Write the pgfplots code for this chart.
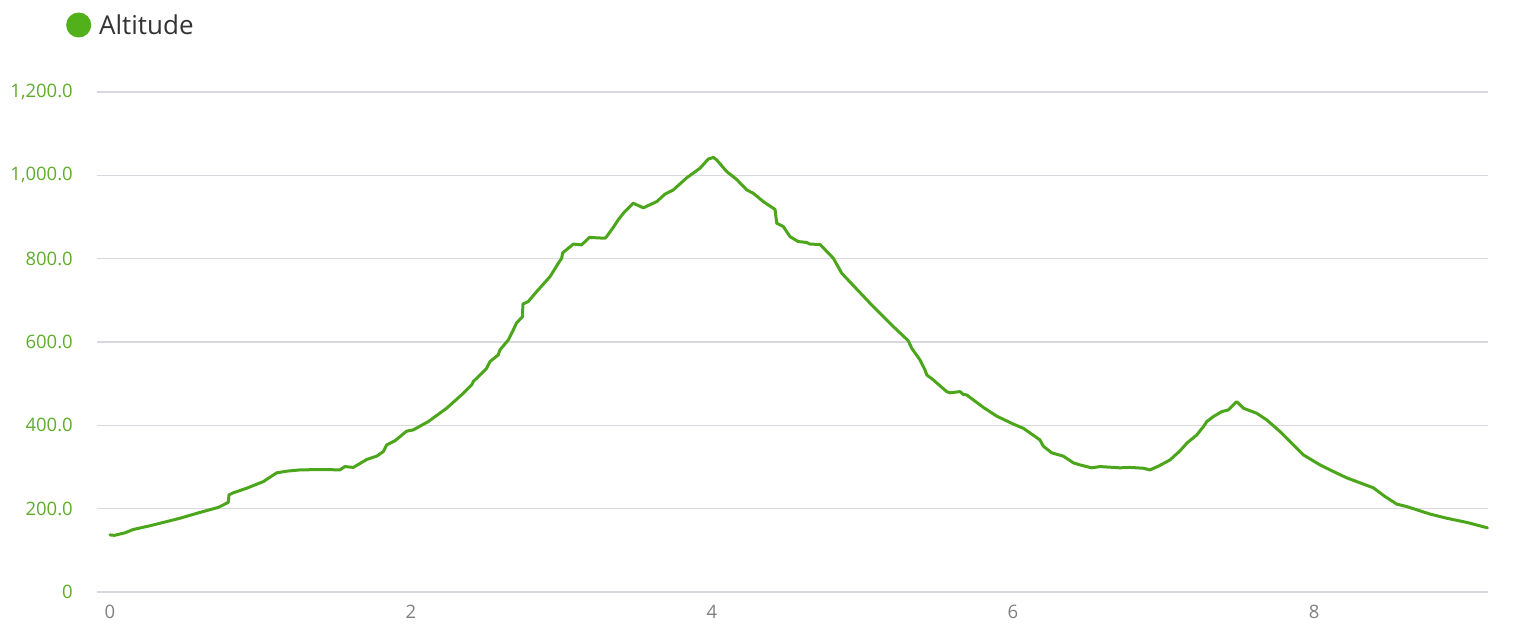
\documentclass[border=0pt]{standalone}
\usepackage{pgfplots}
\pgfplotsset{compat=1.18}
\usepackage{fontspec}
\setmainfont{Open Sans}
\definecolor{altline}{RGB}{76,166,28}
\definecolor{altdot}{RGB}{82,176,26}
\definecolor{ylab}{RGB}{95,172,45}
\definecolor{xlab}{RGB}{128,128,128}
\definecolor{gridc}{RGB}{216,216,222}
\definecolor{legtext}{RGB}{51,51,51}
\begin{document}
\begin{tikzpicture}
\begin{axis}[
  scale only axis,
  width=1391pt, height=500pt,
  xmin=-0.086, xmax=9.156,
  ymin=0, ymax=1200,
  axis line style={draw=none},
  major tick length=0pt,
  ymajorgrids,
  grid style={gridc, line width=1.2pt},
  xtick={0,2,4,6,8},
  ytick={0,200,400,600,800,1000,1200},
  yticklabels={0,200.0,400.0,600.0,800.0,{1,000.0},{1,200.0}},
  /pgf/number format/assume math mode=true,
  ticklabel style={font=\fontsize{18.5}{22}\selectfont},
  yticklabel style={ylab, anchor=east, inner sep=0pt, xshift=-24pt},
  xticklabel style={xlab, anchor=north, inner sep=0pt, yshift=-13pt},
  legend style={at={(axis description cs:-0.0223,1.134)}, anchor=west, draw=none, fill=none, inner sep=0pt,
     font=\fontsize{26}{30}\selectfont\color{legtext},
     /tikz/every odd column/.append style={column sep=6pt}},
  legend image code/.code={\fill[altdot] (0pt,0pt) circle (11pt);},
  legend cell align=left,
  clip=false,
]
\addplot[altline, line width=3pt, line join=round, line cap=round] coordinates {
(0.000,137) (0.030,136) (0.100,142) (0.155,150) (0.266,159) (0.465,177) (0.598,191) (0.720,203)
(0.786,215) (0.791,233) (0.819,238) (0.908,249) (1.019,265) (1.108,286) (1.174,290) (1.262,293)
(1.417,294) (1.528,293) (1.561,301) (1.617,299) (1.706,318) (1.772,326) (1.816,337) (1.839,353)
(1.894,363) (1.971,386) (2.015,389) (2.115,409) (2.237,441) (2.348,477) (2.403,497) (2.414,505)
(2.503,537) (2.525,553) (2.580,569) (2.591,581) (2.647,605) (2.669,621) (2.702,646) (2.742,661)
(2.743,691) (2.779,697) (2.835,721) (2.924,757) (2.979,789) (3.001,801) (3.008,814) (3.079,835)
(3.134,833) (3.185,851) (3.289,849) (3.300,853) (3.344,875) (3.377,893) (3.411,909) (3.477,933)
(3.544,922) (3.633,937) (3.688,955) (3.743,965) (3.832,994) (3.920,1017) (3.975,1039) (4.009,1043)
(4.031,1037) (4.098,1009) (4.164,990) (4.231,965) (4.274,957) (4.341,937) (4.419,918) (4.430,885)
(4.474,877) (4.518,853) (4.573,841) (4.629,839) (4.651,835) (4.718,834) (4.806,801) (4.862,765)
(5.050,693) (5.094,677) (5.116,669) (5.205,637) (5.304,603) (5.327,585) (5.382,557) (5.415,533)
(5.427,521) (5.470,509) (5.559,481) (5.581,478) (5.648,481) (5.670,474) (5.692,473) (5.803,443)
(5.892,422) (6.002,403) (6.068,393) (6.179,365) (6.201,350) (6.257,334) (6.334,326) (6.401,310)
(6.445,305) (6.523,298) (6.578,301) (6.711,298) (6.777,299) (6.866,297) (6.910,293) (6.966,302)
(7.043,317) (7.110,339) (7.154,357) (7.221,377) (7.265,397) (7.287,409) (7.331,421) (7.387,433)
(7.431,437) (7.486,457) (7.531,441) (7.575,435) (7.619,429) (7.686,413) (7.774,385) (7.929,329)
(8.040,305) (8.106,293) (8.217,274) (8.394,250) (8.472,229) (8.549,211) (8.616,205) (8.771,187)
(8.882,177) (9.015,167) (9.152,154)
};
\addlegendentry{Altitude}
\end{axis}
\path[use as bounding box] (-97pt,-37pt) rectangle (1418pt,592pt);
\end{tikzpicture}
\end{document}
